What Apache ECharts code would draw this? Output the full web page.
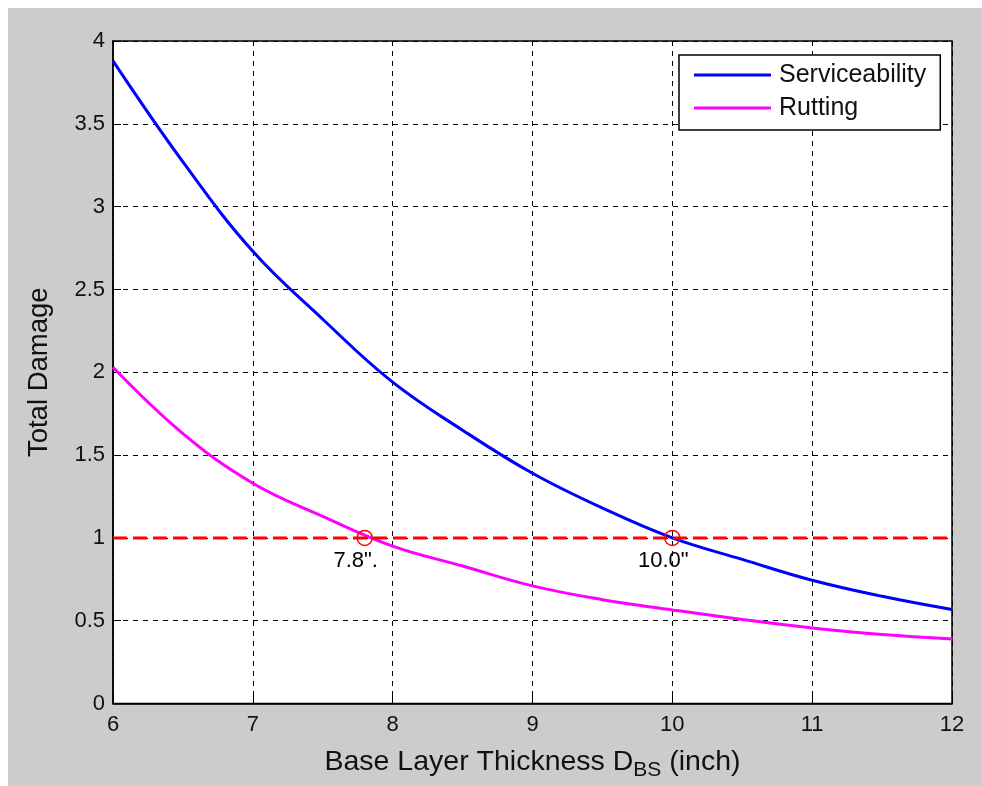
<!DOCTYPE html>
<html>
<head>
<meta charset="utf-8">
<script src="https://cdn.jsdelivr.net/npm/echarts@6/dist/echarts.min.js"></script>
<style>
html,body{margin:0;padding:0;background:#fff;}
#bg{position:absolute;left:8px;top:8px;width:974px;height:778px;background:#cccccc;}
#main{position:absolute;left:0;top:0;width:982px;height:786px;}
</style>
</head>
<body>
<div id="bg"></div>
<div id="main"></div>
<script>
// Data
const thickness = [6, 6.5, 7, 7.5, 8, 8.5, 9, 9.5, 10, 10.5, 11, 11.5, 12];
const serviceability = [3.88, 3.27, 2.73, 2.32, 1.94, 1.65, 1.39, 1.18, 1.00, 0.87, 0.744, 0.647, 0.567];
const rutting = [2.03, 1.63, 1.33, 1.13, 0.95, 0.83, 0.71, 0.627, 0.565, 0.507, 0.456, 0.416, 0.39];
const limitX = [6, 12];
const limitY = [1, 1];
const crossX = [7.8, 10.0];
const crossY = [1, 1];
const crossLabels = ['7.8".', '10.0"'];
const yTicks = [0, 0.5, 1, 1.5, 2, 2.5, 3, 3.5, 4];
const xTicks = [6, 7, 8, 9, 10, 11, 12];

const FONT = 'Liberation Sans';
const chart = echarts.init(document.getElementById('main'), null, {renderer: 'canvas'});

const pair = (xs, ys) => xs.map((x, i) => [x, ys[i]]);

chart.setOption({
  animation: false,
  backgroundColor: 'transparent',
  textStyle: {fontFamily: FONT},
  grid: {
    left: 113, top: 41, right: 30, bottom: 82,
    show: true, backgroundColor: '#ffffff', borderColor: '#000', borderWidth: 1.5
  },
  legend: {
    left: 679, top: 55,
    orient: 'vertical',
    backgroundColor: '#ffffff',
    borderColor: '#000', borderWidth: 1.5,
    padding: [6, 14, 8, 15],
    itemGap: 5,
    itemWidth: 77, itemHeight: 3,
    icon: 'rect',
    textStyle: {fontFamily: FONT, fontSize: 25, color: '#111', lineHeight: 28, padding: [0, 0, 0, 3]},
    data: ['Serviceability', 'Rutting']
  },
  xAxis: {
    type: 'value', min: xTicks[0], max: xTicks[xTicks.length - 1], interval: 1,
    axisLine: {lineStyle: {color: '#000', width: 1.5}},
    axisTick: {inside: true, length: 8, lineStyle: {color: '#000'}},
    axisLabel: {fontFamily: FONT, fontSize: 22, color: '#111', margin: 10},
    splitLine: {show: true, lineStyle: {color: '#000', type: [5, 5], width: 1}},
    name: '{a|Base Layer Thickness D}{s|BS}{a| (inch)}',
    nameLocation: 'middle', nameGap: 42,
    nameTextStyle: {
      rich: {
        a: {fontFamily: FONT, fontSize: 28.5, color: '#111', lineHeight: 34},
        s: {fontFamily: FONT, fontSize: 21, color: '#111', lineHeight: 34, padding: [16, 0, 0, 0]}
      }
    }
  },
  yAxis: {
    type: 'value', min: yTicks[0], max: yTicks[yTicks.length - 1], interval: 0.5,
    axisLine: {show: true, lineStyle: {color: '#000', width: 1.5}},
    axisTick: {show: true, inside: true, length: 8, lineStyle: {color: '#000'}},
    axisLabel: {fontFamily: FONT, fontSize: 22, color: '#111', margin: 8},
    splitLine: {show: true, lineStyle: {color: '#000', type: [5, 5], width: 1}},
    name: 'Total Damage',
    nameLocation: 'middle', nameGap: 60,
    nameTextStyle: {fontFamily: FONT, fontSize: 27.5, color: '#111'}
  },
  series: [
    {
      name: 'Serviceability', type: 'line', data: pair(thickness, serviceability),
      smooth: 0.4, symbol: 'none', lineStyle: {color: '#0000ff', width: 3}, itemStyle: {color: '#0000ff'}, z: 3
    },
    {
      name: 'Rutting', type: 'line', data: pair(thickness, rutting),
      smooth: 0.4, symbol: 'none', lineStyle: {color: '#ff00ff', width: 3}, itemStyle: {color: '#ff00ff'}, z: 3
    },
    {
      name: 'limit', type: 'line', data: pair(limitX, limitY),
      symbol: 'none', lineStyle: {color: '#ff0000', width: 3, type: [14, 6]}, z: 4
    },
    {
      name: 'cross', type: 'scatter', data: pair(crossX, crossY),
      symbol: 'circle', symbolSize: 15,
      itemStyle: {color: 'rgba(255,255,255,0)', borderColor: '#ff0000', borderWidth: 1.5, opacity: 1},
      label: {
        show: true, position: 'bottom', distance: 4, offset: [-9, 0],
        fontFamily: FONT, fontSize: 22, color: '#000', opacity: 1, textBorderWidth: 0,
        formatter: p => crossLabels[p.dataIndex]
      },
      z: 5
    }
  ]
});
</script>
</body>
</html>
